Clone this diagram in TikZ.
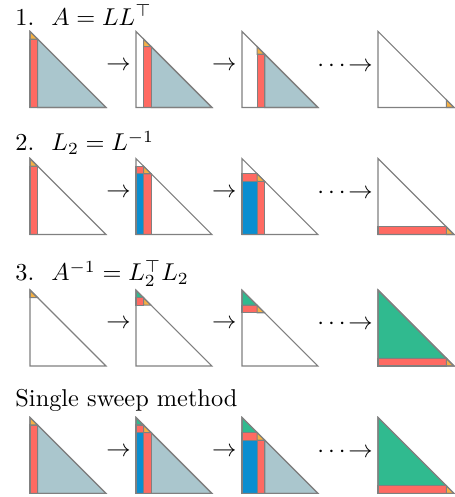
\documentclass[tikz,border=0pt]{standalone}
\usepackage{amsmath,amssymb}

\definecolor{pivotorange}{HTML}{F5B043}
\definecolor{sweepred}{HTML}{FF6A62}
\definecolor{doneblue}{HTML}{0B8ED0}
\definecolor{trailgray}{HTML}{AAC6CD}
\definecolor{invgreen}{HTML}{30BA8F}

\tikzset{
  piece/.style={draw=gray, line width=0.45pt},
  pivot/.style={piece, fill=pivotorange},
  redpart/.style={piece, fill=sweepred},
  bluepart/.style={piece, fill=doneblue},
  trailpart/.style={piece, fill=trailgray},
  greenpart/.style={piece, fill=invgreen},
  rowlabel/.style={anchor=base west, inner sep=0pt},
  steparrow/.style={inner sep=0pt}
}

% pieces of one triangle, step #1 (0..9), side 10
\newcommand{\triframe}{\draw[piece] (0,0) -- (0,10) -- (10,10) -- cycle;}
\newcommand{\pivotcell}[1]{\filldraw[pivot] (#1,#1) -- (#1,#1+1) -- (#1+1,#1+1) -- cycle;}
\newcommand{\colstrip}[1]{\ifnum#1<9 \filldraw[redpart] (#1,#1+1) rectangle (#1+1,10);\fi}
\newcommand{\trailing}[1]{\ifnum#1<9 \filldraw[trailpart] (#1+1,#1+1) -- (#1+1,10) -- (10,10) -- cycle;\fi}
\newcommand{\rowstrip}[1]{\ifnum#1>0 \filldraw[redpart] (0,#1) rectangle (#1,#1+1);\fi}
\newcommand{\doneblock}[1]{\ifnum#1>0 \ifnum#1<9 \filldraw[bluepart] (0,#1+1) rectangle (#1,10);\fi\fi}
\newcommand{\greentop}[1]{\ifnum#1>0 \filldraw[greenpart] (0,0) -- (0,#1) -- (#1,#1) -- cycle;\fi}

\begin{document}
\begin{tikzpicture}[x=3.121pt,y=-3.121pt]
\useasboundingbox (0,0) rectangle (59.87,65.4);

% 1. Cholesky
\node[rowlabel] (lab1) at (1.97,3.29) {1.\hspace{7pt}$A=LL^\top$};
\begin{scope}[shift={(3.95,4.14)}]
\trailing{0}\colstrip{0}\pivotcell{0}\triframe
\end{scope}
\begin{scope}[shift={(17.89,4.14)}]
\trailing{1}\colstrip{1}\pivotcell{1}\triframe
\end{scope}
\begin{scope}[shift={(31.84,4.14)}]
\trailing{2}\colstrip{2}\pivotcell{2}\triframe
\end{scope}
\begin{scope}[shift={(49.74,4.14)}]
\trailing{9}\colstrip{9}\pivotcell{9}\triframe
\end{scope}
\node[steparrow] (a11) at (15.6,8.7) {$\rightarrow$};
\node[steparrow] (a12) at (29.5,8.7) {$\rightarrow$};
\node[steparrow] (a13) at (45.4,8.7) {$\cdots\!\rightarrow$};

% 2. inverse of L
\node[rowlabel] (lab2) at (1.97,19.87) {2.\hspace{7pt}$L_2=L^{-1}$};
\begin{scope}[shift={(3.95,20.86)}]
\doneblock{0}\rowstrip{0}\colstrip{0}\pivotcell{0}\triframe
\end{scope}
\begin{scope}[shift={(17.89,20.86)}]
\doneblock{1}\rowstrip{1}\colstrip{1}\pivotcell{1}\triframe
\end{scope}
\begin{scope}[shift={(31.84,20.86)}]
\doneblock{2}\rowstrip{2}\colstrip{2}\pivotcell{2}\triframe
\end{scope}
\begin{scope}[shift={(49.74,20.86)}]
\doneblock{9}\rowstrip{9}\colstrip{9}\pivotcell{9}\triframe
\end{scope}
\node[steparrow] (a21) at (15.6,25.4) {$\rightarrow$};
\node[steparrow] (a22) at (29.5,25.4) {$\rightarrow$};
\node[steparrow] (a23) at (45.4,25.4) {$\cdots\!\rightarrow$};

% 3. product
\node[rowlabel] (lab3) at (1.97,36.97) {3.\hspace{7pt}$A^{-1}=L_2^\top L_2$};
\begin{scope}[shift={(3.95,38.16)}]
\greentop{0}\rowstrip{0}\pivotcell{0}\triframe
\end{scope}
\begin{scope}[shift={(17.89,38.16)}]
\greentop{1}\rowstrip{1}\pivotcell{1}\triframe
\end{scope}
\begin{scope}[shift={(31.84,38.16)}]
\greentop{2}\rowstrip{2}\pivotcell{2}\triframe
\end{scope}
\begin{scope}[shift={(49.74,38.16)}]
\greentop{9}\rowstrip{9}\pivotcell{9}\triframe
\end{scope}
\node[steparrow] (a31) at (15.6,42.7) {$\rightarrow$};
\node[steparrow] (a32) at (29.5,42.7) {$\rightarrow$};
\node[steparrow] (a33) at (45.4,42.7) {$\cdots\!\rightarrow$};

% single sweep
\node[rowlabel] (lab4) at (1.97,53.55) {Single sweep method};
\begin{scope}[shift={(3.95,54.93)}]
\greentop{0}\trailing{0}\doneblock{0}\rowstrip{0}\colstrip{0}\pivotcell{0}\triframe
\end{scope}
\begin{scope}[shift={(17.89,54.93)}]
\greentop{1}\trailing{1}\doneblock{1}\rowstrip{1}\colstrip{1}\pivotcell{1}\triframe
\end{scope}
\begin{scope}[shift={(31.84,54.93)}]
\greentop{2}\trailing{2}\doneblock{2}\rowstrip{2}\colstrip{2}\pivotcell{2}\triframe
\end{scope}
\begin{scope}[shift={(49.74,54.93)}]
\greentop{9}\trailing{9}\doneblock{9}\rowstrip{9}\colstrip{9}\pivotcell{9}\triframe
\end{scope}
\node[steparrow] (a41) at (15.6,59.5) {$\rightarrow$};
\node[steparrow] (a42) at (29.5,59.5) {$\rightarrow$};
\node[steparrow] (a43) at (45.4,59.5) {$\cdots\!\rightarrow$};
\end{tikzpicture}
\end{document}
